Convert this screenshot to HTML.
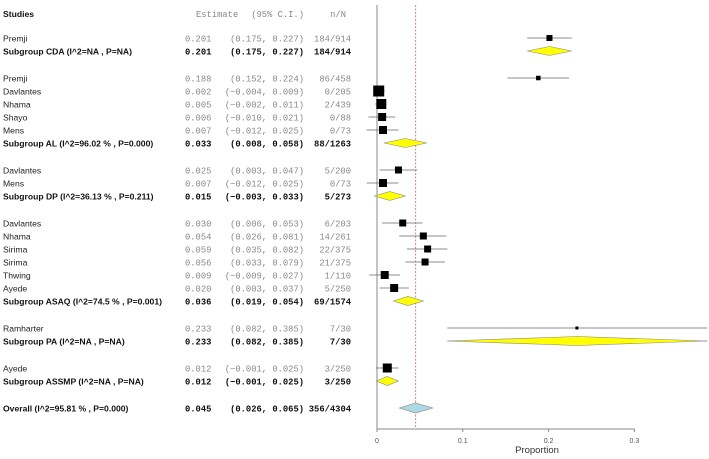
<!DOCTYPE html>
<html><head><meta charset="utf-8"><style>
body{margin:0;background:#fff;}
svg{display:block;font-family:"Liberation Sans",sans-serif;}
.m{font-family:"Liberation Mono",monospace;font-size:8.8px;fill:#888;}
.mb{font-family:"Liberation Mono",monospace;font-size:8.8px;font-weight:bold;fill:#111;}
.s{font-size:8.6px;fill:#222;}
.sb{font-size:8.6px;font-weight:bold;fill:#111;}
</style></head><body>
<svg id="c" width="709" height="459"></svg>
<script>
const labels=["Premji","Subgroup CDA (I^2=NA , P=NA)","Premji","Davlantes","Nhama","Shayo","Mens","Subgroup AL (I^2=96.02 % , P=0.000)","Davlantes","Mens","Subgroup DP (I^2=36.13 % , P=0.211)","Davlantes","Nhama","Sirima","Sirima","Thwing","Ayede","Subgroup ASAQ (I^2=74.5 % , P=0.001)","Ramharter","Subgroup PA  (I^2=NA , P=NA)","Ayede","Subgroup ASSMP (I^2=NA , P=NA)","Overall (I^2=95.81 % , P=0.000)"];
const kinds=["s","g","s","s","s","s","s","g","s","s","g","s","s","s","s","s","s","g","s","g","s","g","o"];
const est=[0.201,0.201,0.188,0.002,0.005,0.006,0.007,0.033,0.025,0.007,0.015,0.030,0.054,0.059,0.056,0.009,0.020,0.036,0.233,0.233,0.012,0.012,0.045];
const lo=[0.175,0.175,0.152,-0.004,-0.002,-0.010,-0.012,0.008,0.003,-0.012,-0.003,0.006,0.026,0.035,0.033,-0.009,0.003,0.019,0.082,0.082,-0.001,-0.001,0.026];
const hi=[0.227,0.227,0.224,0.009,0.011,0.021,0.025,0.058,0.047,0.025,0.033,0.053,0.081,0.082,0.079,0.027,0.037,0.054,0.385,0.385,0.025,0.025,0.065];
const nN=["184/914","184/914","86/458","0/205","2/439","0/88","0/73","88/1263","5/200","0/73","5/273","6/203","14/261","22/375","21/375","1/110","5/250","69/1574","7/30","7/30","3/250","3/250","356/4304"];
const weights=[6,0,4.5,11,10,8,8,0,7,8,0,7,7,7,7,8,8,0,3,0,9,0,0];
const rowsY=[38,51,78,91,104,117,130,143,170,183,196,223,236,249,262,275,288,301,328,341,368,381,408];
const ticks=[0,0.1,0.2,0.3];
const refVal=0.045;
const NS="http://www.w3.org/2000/svg",svg=document.getElementById('c');
const X=v=>377+v*858;
function mk(t,a,p){const e=document.createElementNS(NS,t);for(const k in a)e.setAttribute(k,a[k]);(p||svg).appendChild(e);return e;}
function fmt(v){return (v<0?"\u2212":"")+Math.abs(v).toFixed(3);}
let h=mk('text',{x:3,y:17,class:'sb'});h.textContent="Studies";


h=mk('text',{x:196,y:17,class:'m'});h.textContent="Estimate";


h=mk('text',{x:304,y:17,class:'m','text-anchor':'end'});h.textContent="(95% C.I.)";


h=mk('text',{x:346,y:17,class:'m','text-anchor':'end'});h.textContent="n/N";


let a=mk('line',{x1:377,y1:5,x2:377,y2:429,stroke:'#888','stroke-width':1});


a=mk('line',{x1:377,y1:429,x2:X(0.3),y2:429,stroke:'#888','stroke-width':1});


a=mk('line',{x1:X(refVal),y1:5,x2:X(refVal),y2:429,stroke:'#c88','stroke-width':1,'stroke-dasharray':'2,1.5'});


ticks.forEach(t=>{
 const l=mk('line',{x1:X(t),y1:429,x2:X(t),y2:432,stroke:'#888'});
 
 
 const tx=mk('text',{x:X(t),y:443,'font-size':'7','fill':'#555','text-anchor':'middle'});tx.textContent=String(t);
 
 
});
a=mk('text',{x:537,y:453,'font-size':'9.5','fill':'#333','text-anchor':'middle'});a.textContent="Proportion";


labels.forEach((lab,i)=>{
 const y=rowsY[i],k=kinds[i],bold=k!=='s';
 const g=mk('g',{});
 
 
 let t=mk('text',{x:3,y:y+3.5,class:bold?'sb':'s'},g);t.textContent=lab;
 t=mk('text',{x:185,y:y+3.5,class:bold?'mb':'m'},g);t.textContent=est[i].toFixed(3);
 t=mk('text',{x:304,y:y+3.5,class:bold?'mb':'m','text-anchor':'end'},g);
 t.textContent="("+fmt(lo[i])+", "+fmt(hi[i])+")";
 t=mk('text',{x:351,y:y+3.5,class:bold?'mb':'m','text-anchor':'end'},g);t.textContent=nN[i];
 const hv=Math.min(hi[i],0.385);
 if(k==='s'){
  mk('line',{x1:X(lo[i]),y1:y,x2:X(hv),y2:y,stroke:'#666','stroke-width':0.8},g);
  const s=weights[i];
  mk('rect',{x:X(est[i])-s/2,y:y-s/2,width:s,height:s,fill:'#000'},g);
 } else {
  if(est[i]===0.233) mk('line',{x1:X(lo[i]),y1:y,x2:X(hv),y2:y,stroke:'#888','stroke-width':0.8},g);
  const hh=k==='o'?5:4.5;
  mk('polygon',{points:`${X(lo[i])},${y} ${X(est[i])},${y-hh} ${X(hv)},${y} ${X(est[i])},${y+hh}`,fill:k==='o'?'#add8e6':'#ffff00',stroke:'#888','stroke-width':0.6},g);
 }
});
</script>
</body></html>
